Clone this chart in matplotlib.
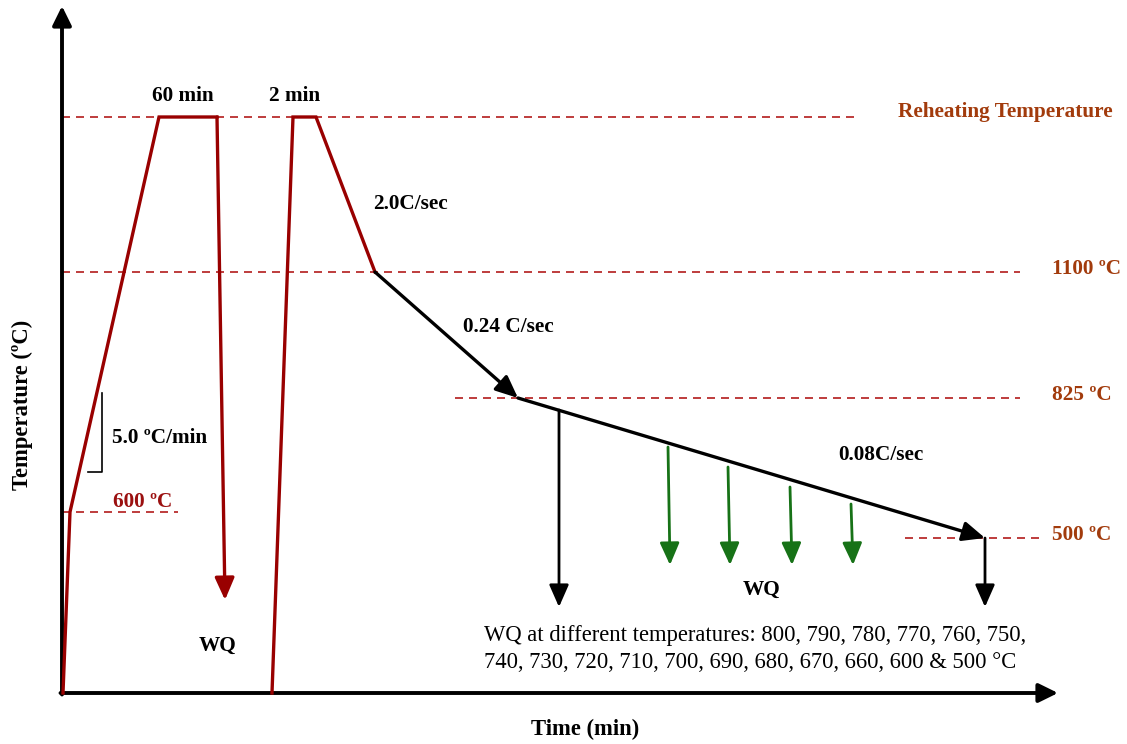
import matplotlib
matplotlib.use("Agg")
import matplotlib.pyplot as plt

plt.rcParams['font.family'] = ['Liberation Serif', 'DejaVu Serif']

# Schematic levels (arbitrary vertical units above the time axis)
T_REHEAT = 576
T_1100 = 421
T_825 = 295
T_600 = 181
T_500 = 155

# Stage 1: heat to reheating temperature, hold 60 min, water quench
stage1_t = [1, 8, 97, 155]
stage1_T = [0, T_600, T_REHEAT, T_REHEAT]
quench1_end = (163, 93)

# Stage 2: reheat, hold 2 min, cool at 2.0 C/s to 1100
stage2_t = [210, 231, 254, 313]
stage2_T = [0, T_REHEAT, T_REHEAT, T_1100]

# Controlled cooling: 0.24 C/s to 825, then 0.08 C/s to 500
cool1_t = [313, 456]
cool1_T = [T_1100, T_825]
cool2_t = [456, 923]
cool2_T = [T_825, T_500]

# Quench arrows from the slow-cooling line
black_quench_t = [497, 923]
black_quench_top = [283, T_500]
black_quench_bottom = 86
green_quench_t = [606, 666, 728, 789]
green_quench_top = [246, 226, 206, 189]
green_quench_bottom = 128

# Reference temperature lines: (level, start, end)
ref_lines = [
    (T_REHEAT, 0, 798),
    (T_1100, 0, 958),
    (T_825, 393, 958),
    (T_500, 843, 978),
    (T_600, 0, 116),
]

RED = '#990000'
DASH = '#B31B1B'
BROWN = '#A23B0C'
GREEN = '#177217'

fig = plt.figure(figsize=(11.27, 7.44), dpi=100)
ax = fig.add_axes([0, 0, 1, 1])
ax.set_xlim(-62, 1065)
ax.set_ylim(-51, 693)
ax.axis('off')

# axes with arrowheads
axis_head = '-|>,head_length=0.65,head_width=0.32'
ax.annotate('', xy=(0, 687), xytext=(0, -1.5),
            arrowprops=dict(arrowstyle=axis_head, lw=2.8, color='black',
                            shrinkA=0, shrinkB=0, mutation_scale=18))
ax.annotate('', xy=(996, 0), xytext=(-1.5, 0),
            arrowprops=dict(arrowstyle=axis_head, lw=2.8, color='black',
                            shrinkA=0, shrinkB=0, mutation_scale=18))

dash = (0, (4.8, 3.6))
for lvl, x0, x1 in ref_lines:
    ax.plot([x0, x1], [lvl, lvl], color=DASH, lw=1.2, linestyle=dash, zorder=1)

# heating profiles
ax.plot(stage1_t, stage1_T, color=RED, lw=2.4, solid_joinstyle='miter', zorder=3)
ax.plot(stage2_t, stage2_T, color=RED, lw=2.4, solid_joinstyle='miter', zorder=3)

head = '-|>,head_length=0.75,head_width=0.33'
ax.annotate('', xy=quench1_end, xytext=(stage1_t[-1], stage1_T[-1]),
            arrowprops=dict(arrowstyle=head, lw=2.4, color=RED,
                            shrinkA=0, shrinkB=0, mutation_scale=18), zorder=3)

ax.annotate('', xy=(cool1_t[1], cool1_T[1]), xytext=(cool1_t[0], cool1_T[0]),
            arrowprops=dict(arrowstyle=head, lw=2.4, color='black',
                            shrinkA=0, shrinkB=0, mutation_scale=18), zorder=3)
ax.annotate('', xy=(cool2_t[1], cool2_T[1]), xytext=(cool2_t[0], cool2_T[0]),
            arrowprops=dict(arrowstyle=head, lw=2.4, color='black',
                            shrinkA=0, shrinkB=0, mutation_scale=18), zorder=3)

for t, top in zip(black_quench_t, black_quench_top):
    ax.annotate('', xy=(t, black_quench_bottom), xytext=(t, top),
                arrowprops=dict(arrowstyle=head, lw=2.0, color='black',
                                shrinkA=0, shrinkB=0, mutation_scale=18), zorder=3)
for t, top in zip(green_quench_t, green_quench_top):
    ax.annotate('', xy=(t + 2, green_quench_bottom), xytext=(t, top),
                arrowprops=dict(arrowstyle=head, lw=2.0, color=GREEN,
                                shrinkA=0, shrinkB=0, mutation_scale=18), zorder=3)

# slope bracket for heating rate
ax.plot([26, 40, 40], [221, 221, 300], color='black', lw=1.2)

bold = dict(fontweight='bold', fontsize=15.3, color='black')
ax.text(121, 587, '60 min', ha='center', va='bottom', **bold)
ax.text(233, 587, '2 min', ha='center', va='bottom', **bold)
ax.text(311, 489, '2.0C/sec', ha='left', va='center', **bold)
ax.text(401, 366, '0.24 C/sec', ha='left', va='center', **bold)
ax.text(776, 238, '0.08C/sec', ha='left', va='center', **bold)
ax.text(50, 255, '5.0 ºC/min', ha='left', va='center', **bold)
ax.text(156, 47, 'WQ', ha='center', va='center', **bold)
ax.text(700, 103, 'WQ', ha='center', va='center', **bold)

ax.text(51, 191, '600 ºC', ha='left', va='center', color='#9B1010',
        fontweight='bold', fontsize=15.3)
ax.text(836, 581, 'Reheating Temperature', ha='left', va='center',
        color=BROWN, fontweight='bold', fontsize=15.3)
for lvl, lab in [(T_1100, '1100 ºC'), (T_825, '825 ºC'), (T_500, '500 ºC')]:
    ax.text(990, lvl + 3, lab, ha='left', va='center', color=BROWN,
            fontweight='bold', fontsize=15.3)

ax.text(422, 44, 'WQ at different temperatures: 800, 790, 780, 770, 760, 750,\n'
        '740, 730, 720, 710, 700, 690, 680, 670, 660, 600 & 500 °C',
        ha='left', va='center', fontsize=16.3, linespacing=1.32)

ax.text(-40, 288, 'Temperature (ºC)', rotation=90, ha='center', va='center',
        fontweight='bold', fontsize=16.3)
ax.text(523, -36, 'Time (min)', ha='center', va='center',
        fontweight='bold', fontsize=16.3)

fig.savefig('out.png', dpi=100)
